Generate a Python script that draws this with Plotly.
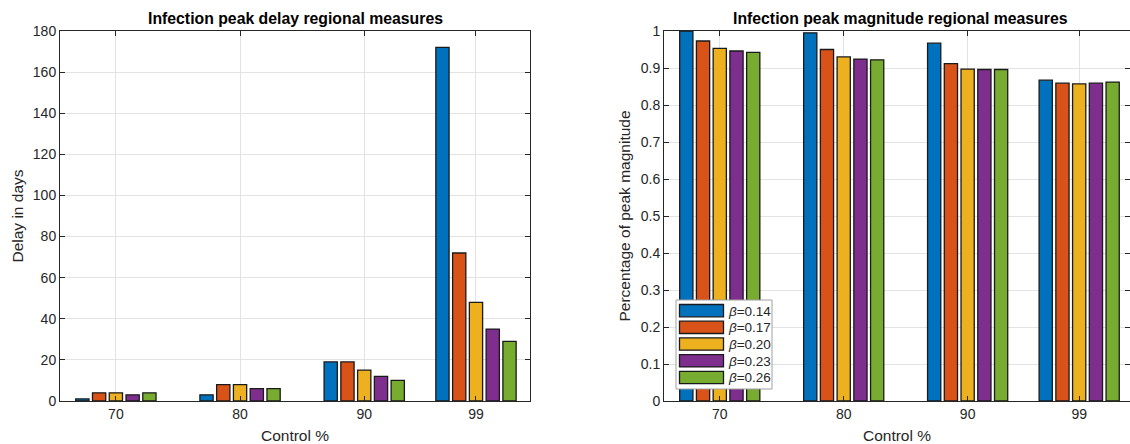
import plotly.graph_objects as go

# Control levels (%) on the x axis
control = [70, 80, 90, 99]
tick_labels = ["70", "80", "90", "99"]

# Infection-rate scenarios
betas = ["0.14", "0.17", "0.20", "0.23", "0.26"]
colors = ["#0072BD", "#D95319", "#EDB120", "#7E2F8E", "#77AC30"]

# Peak delay in days, one list per beta
delay_b014 = [1, 3, 19, 172]
delay_b017 = [4, 8, 19, 72]
delay_b020 = [4, 8, 15, 48]
delay_b023 = [3, 6, 12, 35]
delay_b026 = [4, 6, 10, 29]

# Peak magnitude as a fraction, one list per beta
mag_b014 = [1.000, 0.995, 0.967, 0.867]
mag_b017 = [0.973, 0.950, 0.912, 0.859]
mag_b020 = [0.953, 0.930, 0.897, 0.857]
mag_b023 = [0.946, 0.924, 0.896, 0.859]
mag_b026 = [0.942, 0.922, 0.896, 0.862]

delays = [delay_b014, delay_b017, delay_b020, delay_b023, delay_b026]
mags = [mag_b014, mag_b017, mag_b020, mag_b023, mag_b026]

W, H = 1130, 444
FONT = "Liberation Sans, Arial, Helvetica, sans-serif"
INK = "#262626"
GRID = "#e3e3e3"


def px(x):
    return x / W


def py(y):
    return 1 - y / H


fig = go.Figure()

for i, b in enumerate(betas):
    fig.add_trace(go.Bar(
        x=control, y=delays[i], name=f"β={b}", offsetgroup=str(i),
        marker=dict(color=colors[i], line=dict(color="#1a1a1a", width=1.3)),
        xaxis="x", yaxis="y", showlegend=False,
    ))
    fig.add_trace(go.Bar(
        x=control, y=mags[i], name=f"β={b}", offsetgroup=str(i),
        marker=dict(color=colors[i], line=dict(color="#1a1a1a", width=1.3)),
        xaxis="x2", yaxis="y2", showlegend=False,
    ))

axis_common = dict(
    showline=True, linecolor=INK, linewidth=1, mirror="ticks",
    ticks="inside", ticklen=5, tickcolor=INK, tickwidth=1,
    showgrid=True, gridcolor=GRID, gridwidth=1, zeroline=False,
    automargin=False,
    tickfont=dict(family=FONT, size=14, color=INK),
)

xaxis_common = dict(
    axis_common, tickvals=control, ticktext=tick_labels,
    title=dict(text="Control %", font=dict(family=FONT, size=15.5, color=INK), standoff=10),
)

fig.update_layout(
    width=W, height=H,
    margin=dict(l=0, r=0, t=0, b=0, autoexpand=False),
    paper_bgcolor="white", plot_bgcolor="white",
    barmode="group", bargap=0.25, bargroupgap=0.21,
    font=dict(family=FONT, color=INK),
    xaxis=dict(xaxis_common, domain=[px(60), px(530)], range=[65.5, 103.35], anchor="y"),
    yaxis=dict(axis_common, domain=[py(401), py(31)], range=[0, 180], dtick=20, anchor="x",
               title=dict(text="Delay in days", font=dict(family=FONT, size=15.5, color=INK), standoff=5)),
    xaxis2=dict(xaxis_common, domain=[px(664), 1.0], range=[65.5, 103.1], anchor="y2"),
    yaxis2=dict(axis_common, domain=[py(401), py(31)], range=[0, 1], dtick=0.1, anchor="x2",
                title=dict(text="Percentage of peak magnitude", font=dict(family=FONT, size=15.5, color=INK), standoff=6)),
)

annotations = [
    dict(text="<b>Infection peak delay regional measures</b>", x=px(295.5), y=py(18),
         xref="paper", yref="paper", showarrow=False, xanchor="center", yanchor="middle",
         font=dict(family=FONT, size=15.8, color="black")),
    dict(text="<b>Infection peak magnitude regional measures</b>", x=px(900), y=py(18),
         xref="paper", yref="paper", showarrow=False, xanchor="center", yanchor="middle",
         font=dict(family=FONT, size=15.8, color="black")),
]

# Legend box with wide colour swatches
shapes = [dict(type="rect", xref="paper", yref="paper",
               x0=px(676), x1=px(772), y0=py(389), y1=py(300),
               line=dict(color="#a0a0a0", width=1), fillcolor="white", layer="above")]
for i, b in enumerate(betas):
    top = 304.5 + i * 16.7
    shapes.append(dict(type="rect", xref="paper", yref="paper",
                       x0=px(679.5), x1=px(723.5), y0=py(top + 12.3), y1=py(top),
                       line=dict(color="#1a1a1a", width=1.3), fillcolor=colors[i], layer="above"))
    annotations.append(dict(text=f"<i>β</i>=" + b, x=px(726), y=py(top + 6.5),
                            xref="paper", yref="paper", showarrow=False,
                            xanchor="left", yanchor="middle",
                            font=dict(family=FONT, size=13.5, color=INK)))

fig.update_layout(annotations=annotations, shapes=shapes)

fig.write_html("out.html")
